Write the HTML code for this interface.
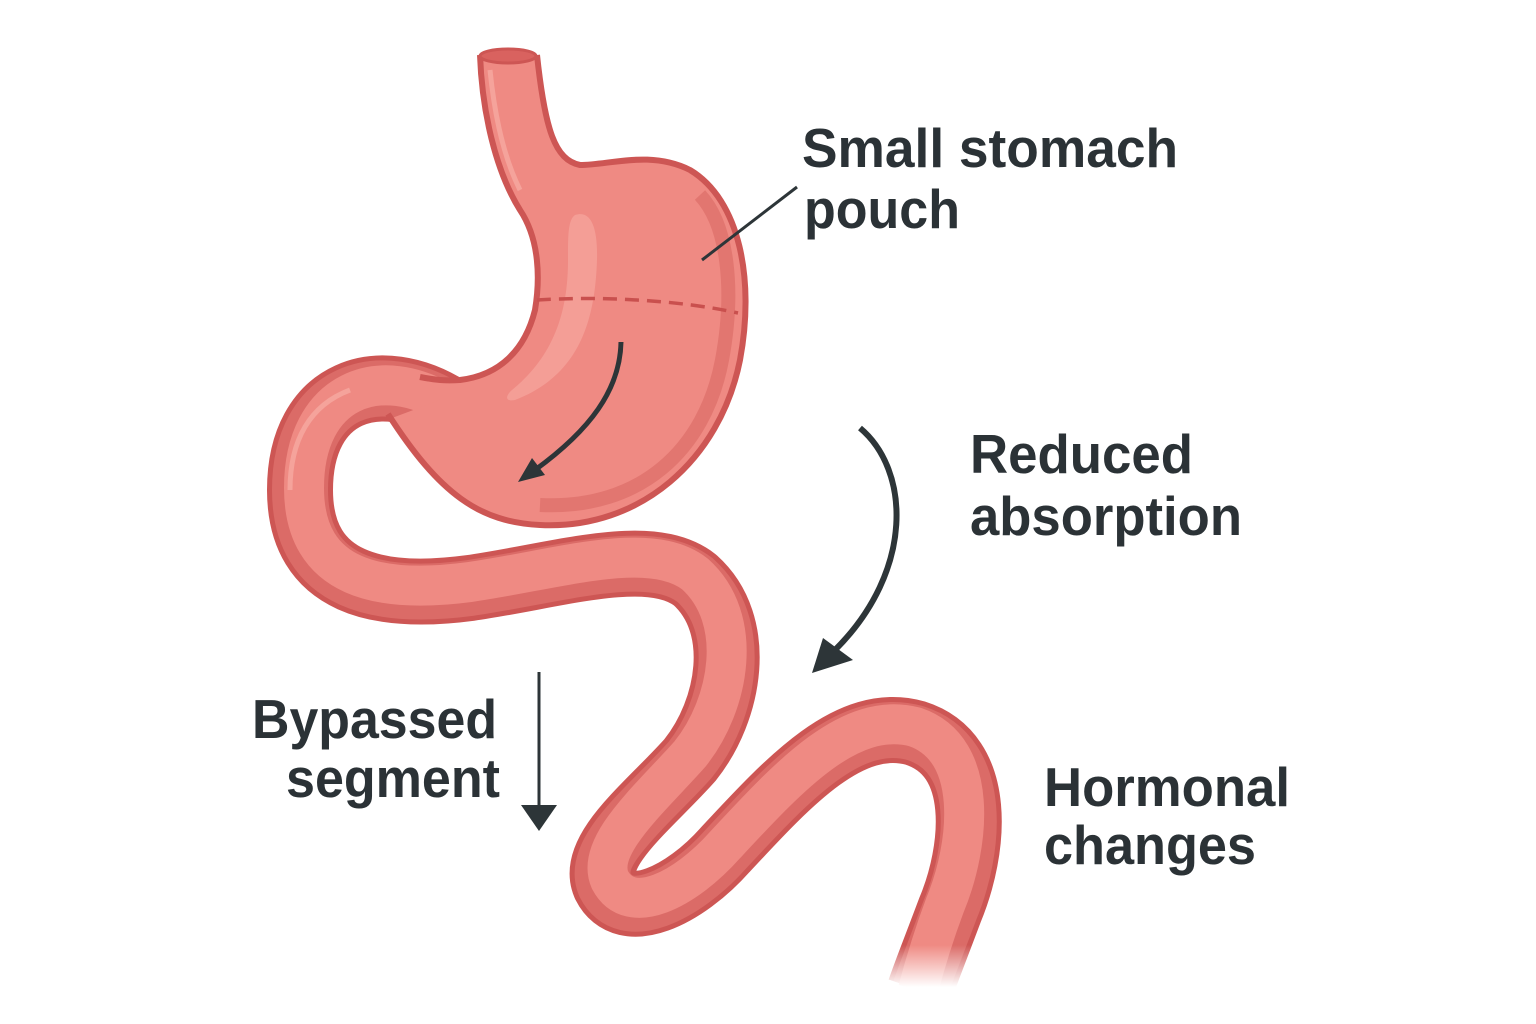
<!DOCTYPE html>
<html><head><meta charset="utf-8"><style>html,body{margin:0;padding:0;background:#fff}svg{display:block}</style></head>
<body>
<svg width="1536" height="1024" viewBox="0 0 1536 1024" xmlns="http://www.w3.org/2000/svg">
<defs>
<linearGradient id="fade" x1="0" y1="0" x2="0" y2="1">
<stop offset="0" stop-color="#fff" stop-opacity="0"/><stop offset="0.7" stop-color="#fff" stop-opacity="1"/></linearGradient>
</defs>
<!-- intestine -->
<g fill="none" stroke-linecap="butt" stroke-linejoin="round">
<path d="M 500,440 L 450,410 C 380,365 300,390 300,490 C 300,585 380,600 470,588 C 560,575 650,545 695,580 C 745,625 730,710 690,760 C 650,805 590,850 605,885 C 625,925 685,895 725,850 C 790,780 850,715 915,733 C 985,755 975,850 950,910 C 935,950 925,975 920,990" stroke="#cd5654" stroke-width="66"/>
<path d="M 500,440 L 450,410 C 380,365 300,390 300,490 C 300,585 380,600 470,588 C 560,575 650,545 695,580 C 745,625 730,710 690,760 C 650,805 590,850 605,885 C 625,925 685,895 725,850 C 790,780 850,715 915,733 C 985,755 975,850 950,910 C 935,950 925,975 920,990" stroke="#db6b67" stroke-width="56"/>
<path d="M 500,436 L 450,406 C 380,361 304,390 304,488 C 304,580 380,594 470,582 C 560,569 650,539 695,574 C 745,619 730,704 690,754 C 650,799 595,846 610,880 C 630,918 685,890 725,845 C 790,775 850,710 915,727 C 980,749 970,845 945,905 C 930,945 922,975 918,990" stroke="#ef8a83" stroke-width="40"/>
</g>
<rect x="860" y="945" width="140" height="60" fill="url(#fade)"/>
<!-- stomach -->
<path d="M 480,55 C 482,110 495,170 520,210 C 540,240 540,280 535,310 C 525,350 500,375 460,380 C 445,381 435,380 425,378 L 440,400 L 392,418 C 440,495 480,522 540,525 C 640,530 720,460 740,360 C 755,280 740,200 690,170 C 650,150 610,165 580,165 C 555,160 545,130 537,55 Z" fill="#ef8a83"/>
<path d="M 540,505 C 640,510 705,450 722,360 C 735,290 728,225 700,195" fill="none" stroke="#e27670" stroke-width="14"/>
<path d="M 480,55 C 482,110 495,170 520,210 C 540,240 540,280 535,310 C 525,350 500,375 460,380 C 445,381 435,380 420,377" fill="none" stroke="#cd5654" stroke-width="6"/>
<path d="M 388,414 C 440,495 480,522 540,525 C 640,530 720,460 740,360 C 755,280 740,200 690,170 C 650,150 610,165 580,165 C 555,160 545,130 537,55" fill="none" stroke="#cd5654" stroke-width="6"/>
<ellipse cx="508" cy="56" rx="28" ry="7" fill="#d9625f" stroke="#cd5654" stroke-width="3"/>
<!-- highlights -->
<path d="M 575,215 C 590,210 598,225 597,260 C 595,320 580,375 515,400 C 505,402 505,396 512,390 C 555,355 568,310 568,260 C 568,235 568,220 575,215 Z" fill="#f5a39b" opacity="0.8"/>
<path d="M 490,70 C 495,120 505,160 520,190" stroke="#f5a39b" stroke-width="5" fill="none"/>
<path d="M 290,490 C 290,440 310,405 350,390" stroke="#f5a39b" stroke-width="5" fill="none"/>
<path d="M 537,300 C 600,296 680,300 738,313" fill="none" stroke="#c9504e" stroke-width="3.5" stroke-dasharray="14,8"/>
<!-- arrows -->
<g fill="#2d3538" stroke="#2d3538">
<line x1="797" y1="187" x2="702" y2="260" stroke-width="3"/>
<path d="M 621,342 C 620,390 590,430 535,470" fill="none" stroke-width="5"/>
<polygon points="518,482 532,458 545,475" stroke="none"/>
<path d="M 860,428 C 910,470 915,570 835,650" fill="none" stroke-width="6"/>
<polygon points="812,673 823,638 853,660" stroke="none"/>
<line x1="539" y1="672" x2="539" y2="808" stroke-width="3"/>
<polygon points="521,805 557,805 539,831" stroke="none"/>
</g>
<!-- text -->
<g font-family="Liberation Sans, sans-serif" font-weight="bold" font-size="55" fill="#2b3236">
<text x="802" y="167" textLength="376" lengthAdjust="spacingAndGlyphs">Small stomach</text>
<text x="804" y="228" textLength="156" lengthAdjust="spacingAndGlyphs">pouch</text>
<text x="970" y="473" textLength="223" lengthAdjust="spacingAndGlyphs">Reduced</text>
<text x="970" y="535" textLength="272" lengthAdjust="spacingAndGlyphs">absorption</text>
<text x="252" y="738" textLength="245" lengthAdjust="spacingAndGlyphs">Bypassed</text>
<text x="286" y="797" textLength="214" lengthAdjust="spacingAndGlyphs">segment</text>
<text x="1044" y="806" textLength="246" lengthAdjust="spacingAndGlyphs">Hormonal</text>
<text x="1044" y="864" textLength="212" lengthAdjust="spacingAndGlyphs">changes</text>
</g>
</svg>
</body></html>
